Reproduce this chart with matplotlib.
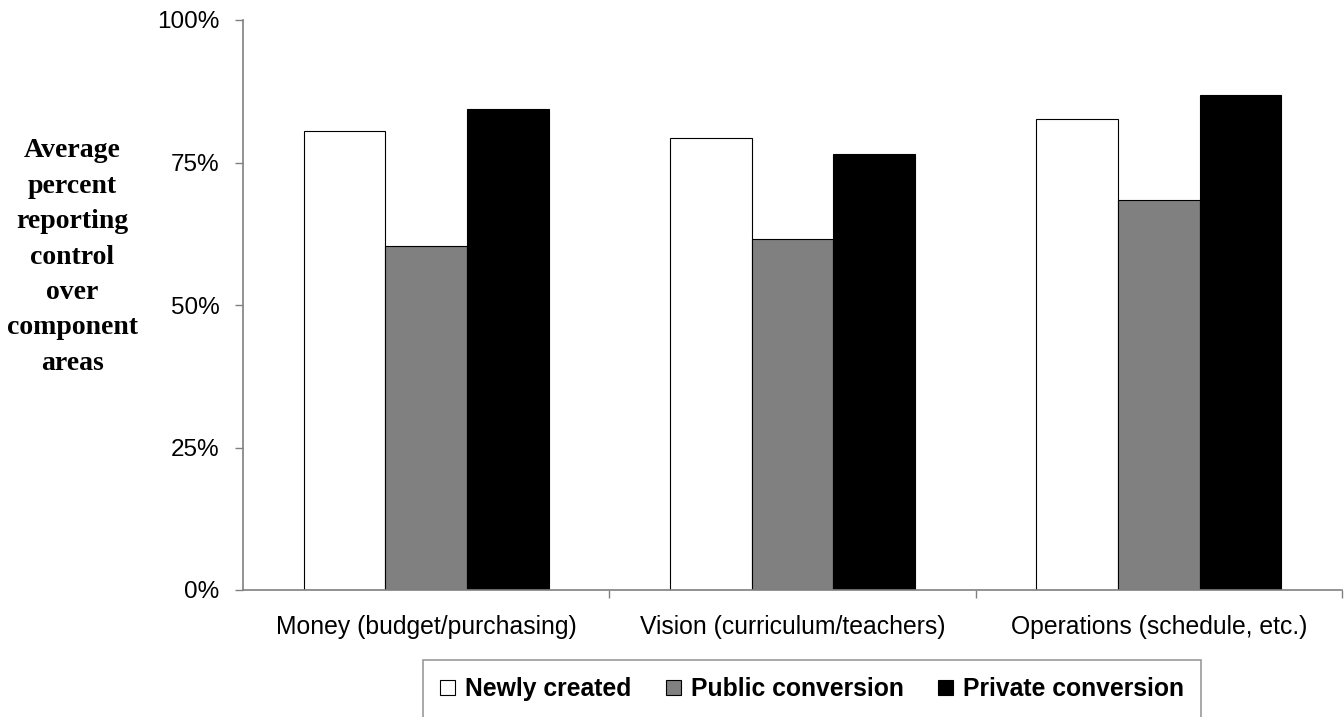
import matplotlib
matplotlib.use("Agg")
import matplotlib.pyplot as plt
from matplotlib.patches import Patch
import numpy as np

# values (percent)
categories = ["Money (budget/purchasing)", "Vision (curriculum/teachers)",
              "Operations (schedule, etc.)"]
series_names = ["Newly created", "Public conversion", "Private conversion"]
newly_created = [80.6, 79.3, 82.6]
public_conversion = [60.4, 61.5, 68.4]
private_conversion = [84.4, 76.5, 86.9]
y_ticks = [0, 25, 50, 75, 100]
y_tick_labels = ["0%", "25%", "50%", "75%", "100%"]

colors = ["white", "#808080", "black"]
plt.rcParams["font.family"] = ["Liberation Sans", "DejaVu Sans"]

fig = plt.figure(figsize=(13.44, 7.17), dpi=100)
ax = fig.add_axes([243 / 1344, 1 - 590 / 717, 1099 / 1344, 570 / 717])

x = np.arange(len(categories))
bar_w = 0.223
for i, (vals, col) in enumerate(zip([newly_created, public_conversion, private_conversion], colors)):
    ax.bar(x + (i - 1) * bar_w, vals, width=bar_w, color=col,
           edgecolor="black", linewidth=0.8, zorder=2)

ax.set_xlim(-0.5, len(categories) - 0.5)
ax.set_ylim(0, 100)

ax.set_yticks(y_ticks)
ax.set_yticklabels(y_tick_labels, fontsize=17.5)
ax.tick_params(axis="y", direction="out", length=6, width=1, color="#808080", pad=11)

ax.set_xticks(x)
ax.set_xticklabels(categories, fontsize=17.8)
ax.set_xticks(np.arange(len(categories)) + 0.5, minor=True)
ax.tick_params(axis="x", which="major", length=0, pad=18)
ax.tick_params(axis="x", which="minor", direction="out", length=6, width=1, color="#808080")

for side in ["top", "right"]:
    ax.spines[side].set_visible(False)
for side in ["left", "bottom"]:
    ax.spines[side].set_color("#808080")
    ax.spines[side].set_linewidth(1.2)

fig.text(72 / 1344, 1 - 257 / 717,
         "Average\npercent\nreporting\ncontrol\nover\ncomponent\nareas",
         family=["Liberation Serif", "DejaVu Serif"], fontweight="bold", fontsize=20,
         ha="center", va="center", multialignment="center", linespacing=1.55)

handles = [Patch(facecolor=c, edgecolor="black", linewidth=0.8) for c in colors]
leg = fig.legend(handles, series_names, ncol=3, loc="upper left",
                 bbox_to_anchor=(423 / 1344, 1 - 660 / 717),
                 prop={"weight": "bold", "size": 17.8},
                 handlelength=0.6, handleheight=0.6, handletextpad=0.4,
                 columnspacing=1.4, borderpad=0.7, borderaxespad=0,
                 frameon=True, fancybox=False)
leg.get_frame().set_edgecolor("#808080")
leg.get_frame().set_linewidth(1.2)

fig.savefig("out.png", dpi=100)
